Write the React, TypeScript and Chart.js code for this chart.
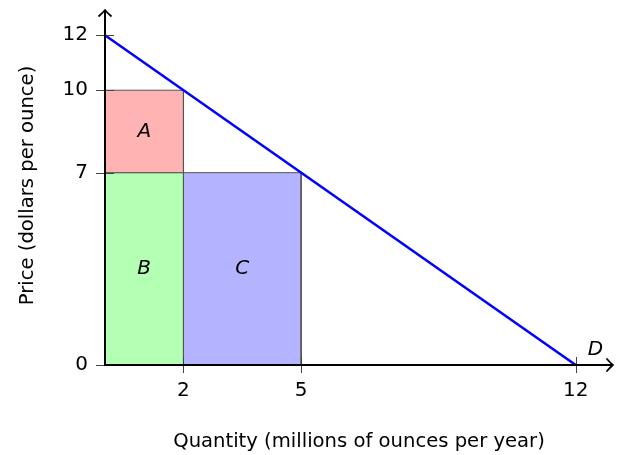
import React, { useEffect, useRef } from "react";
import { Chart, registerables } from "chart.js";

Chart.register(...registerables);

// ---- data ----
const demandQty = [0, 12];
const demandPrice = [12, 0];

const regionNames = ["A", "B", "C"];
const regionQtyFrom = [0, 0, 2];
const regionQtyTo = [2, 2, 5];
const regionPriceFrom = [7, 0, 0];
const regionPriceTo = [10, 7, 7];

const xTicks = [2, 5, 12];
const yTicks = [0, 7, 10, 12];

const demandLabel = "D";
const xTitle = "Quantity (millions of ounces per year)";
const yTitle = "Price (dollars per ounce)";

// ---- styles ----
const regionColors = ["rgb(255,179,179)", "rgb(179,255,179)", "rgb(179,179,255)"];
const FONT = "'DejaVu Sans', sans-serif";
const FONT_SIZE = 20;
const TITLE_SIZE = 19.6;

const overlay = {
  id: "econOverlay",
  afterDatasetsDraw(chart: any) {
    const { ctx, chartArea, scales } = chart;
    const xs = scales.x;
    const ys = scales.y;
    const { left, right, top, bottom } = chartArea;
    ctx.save();
    // tick marks crossing axes
    ctx.strokeStyle = "#444";
    ctx.lineWidth = 1;
    for (const v of xTicks) {
      const px = Math.round(xs.getPixelForValue(v)) + 0.5;
      ctx.beginPath();
      ctx.moveTo(px, bottom - 8);
      ctx.lineTo(px, bottom + 8);
      ctx.stroke();
    }
    for (const v of yTicks) {
      const py = Math.round(ys.getPixelForValue(v)) + 0.5;
      ctx.beginPath();
      ctx.moveTo(left - 9, py);
      ctx.lineTo(left + 9, py);
      ctx.stroke();
    }
    // axes
    ctx.strokeStyle = "#000";
    ctx.lineWidth = 2;
    ctx.lineCap = "butt";
    ctx.beginPath();
    ctx.moveTo(left - 1, bottom);
    ctx.lineTo(right, bottom);
    ctx.moveTo(left, bottom + 1);
    ctx.lineTo(left, top);
    ctx.stroke();
    // arrow heads
    ctx.lineWidth = 1.8;
    ctx.lineCap = "round";
    ctx.lineJoin = "round";
    ctx.beginPath();
    ctx.moveTo(right - 6, bottom - 6);
    ctx.quadraticCurveTo(right - 2, bottom - 1.5, right, bottom);
    ctx.quadraticCurveTo(right - 2, bottom + 1.5, right - 6, bottom + 6);
    ctx.moveTo(left - 6, top + 6);
    ctx.quadraticCurveTo(left - 1.5, top + 2, left, top);
    ctx.quadraticCurveTo(left + 1.5, top + 2, left + 6, top + 6);
    ctx.stroke();
    // region labels
    ctx.fillStyle = "#000";
    ctx.font = `italic ${FONT_SIZE}px ${FONT}`;
    ctx.textAlign = "center";
    ctx.textBaseline = "middle";
    regionNames.forEach((name, i) => {
      const cx = (regionQtyFrom[i] + regionQtyTo[i]) / 2;
      const cy = (regionPriceFrom[i] + regionPriceTo[i]) / 2;
      ctx.fillText(name, xs.getPixelForValue(cx), ys.getPixelForValue(cy));
    });
    const endQ = demandQty[demandQty.length - 1];
    const endP = demandPrice[demandPrice.length - 1];
    ctx.fillText(demandLabel, xs.getPixelForValue(endQ + 0.5), ys.getPixelForValue(endP + 0.55));
    // axis titles
    ctx.font = `${TITLE_SIZE}px ${FONT}`;
    ctx.textBaseline = "alphabetic";
    ctx.fillText(xTitle, (left + right) / 2, 447);
    ctx.save();
    ctx.translate(33, (top + bottom) / 2 - 2);
    ctx.rotate(-Math.PI / 2);
    ctx.fillText(yTitle, 0, 0);
    ctx.restore();
    ctx.restore();
  },
};

export default function App() {
  const ref = useRef<HTMLCanvasElement | null>(null);
  useEffect(() => {
    if (!ref.current) return;
    const regionSets = regionNames.map((name, i) => ({
      label: name,
      data: [
        { x: regionQtyFrom[i], y: regionPriceFrom[i] },
        { x: regionQtyFrom[i], y: regionPriceTo[i] },
        { x: regionQtyTo[i], y: regionPriceTo[i] },
        { x: regionQtyTo[i], y: regionPriceFrom[i] },
        { x: regionQtyFrom[i], y: regionPriceFrom[i] },
      ],
      fill: "shape",
      backgroundColor: regionColors[i],
      borderColor: "#555",
      borderWidth: 1,
      pointRadius: 0,
      tension: 0,
      order: 2,
    }));
    const demandSet = {
      label: demandLabel,
      data: demandQty.map((q, i) => ({ x: q, y: demandPrice[i] })),
      fill: false,
      borderColor: "rgb(0,0,255)",
      borderWidth: 2.5,
      pointRadius: 0,
      order: 1,
    };
    const chart = new Chart(ref.current, {
      type: "line",
      data: { datasets: [...regionSets, demandSet] as any },
      options: {
        animation: false,
        responsive: false,
        layout: { padding: { left: 0, right: 8, top: 10, bottom: 0 } },
        plugins: { legend: { display: false }, tooltip: { enabled: false } },
        scales: {
          x: {
            type: "linear",
            min: 0,
            max: 12.95,
            afterBuildTicks: (s: any) => {
              s.ticks = xTicks.map((v) => ({ value: v }));
            },
            afterFit: (s: any) => {
              s.height = 90;
              s.paddingLeft = 0;
              s.paddingRight = 0;
            },
            grid: { color: "transparent", drawOnChartArea: false, tickLength: 7 },
            border: { display: false },
            ticks: {
              padding: 7,
              color: "#000",
              font: { family: FONT, size: FONT_SIZE },
              maxRotation: 0,
              autoSkip: false,
            },
          },
          y: {
            type: "linear",
            min: 0,
            max: 12.92,
            afterBuildTicks: (s: any) => {
              s.ticks = yTicks.map((v) => ({ value: v }));
            },
            afterFit: (s: any) => {
              s.width = 105;
              s.paddingTop = 0;
              s.paddingBottom = 0;
            },
            grid: { color: "transparent", drawOnChartArea: false, tickLength: 8 },
            border: { display: false },
            ticks: {
              padding: 9,
              color: "#000",
              font: { family: FONT, size: FONT_SIZE },
              autoSkip: false,
            },
          },
        },
      },
      plugins: [overlay],
    });
    return () => chart.destroy();
  }, []);
  return (
    <div style={{ position: "fixed", left: 0, top: 0, width: 621, height: 455, background: "#fff" }}>
      <canvas ref={ref} width={621} height={455} style={{ display: "block" }} />
    </div>
  );
}
